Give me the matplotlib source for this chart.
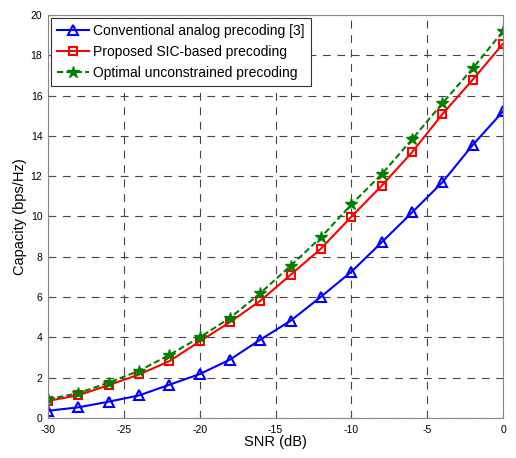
import matplotlib
matplotlib.use("Agg")
import matplotlib.pyplot as plt

snr = [-30, -28, -26, -24, -22, -20, -18, -16, -14, -12, -10, -8, -6, -4, -2, 0]
conventional = [0.36, 0.53, 0.81, 1.12, 1.65, 2.18, 2.9, 3.89, 4.83, 6.02, 7.26, 8.72, 10.2, 11.7, 13.55, 15.22]
proposed = [0.85, 1.13, 1.63, 2.16, 2.82, 3.8, 4.76, 5.82, 7.11, 8.41, 9.99, 11.53, 13.19, 15.08, 16.79, 18.58]
optimal = [0.93, 1.23, 1.76, 2.34, 3.13, 4.0, 4.97, 6.2, 7.56, 8.97, 10.6, 12.1, 13.83, 15.62, 17.35, 19.2]

labels = ["Conventional analog precoding [3]",
          "Proposed SIC-based precoding",
          "Optimal unconstrained precoding"]
xticks = [-30, -25, -20, -15, -10, -5, 0]
yticks = [0, 2, 4, 6, 8, 10, 12, 14, 16, 18, 20]

plt.rcParams['font.family'] = ['Liberation Sans', 'DejaVu Sans']
plt.rcParams['axes.unicode_minus'] = False

fig = plt.figure(figsize=(5.16, 4.58), dpi=100)
ax = fig.add_axes([0.093, 0.0873, 0.882, 0.880])

ax.plot(snr, conventional, color='#0000ff', lw=1.5, marker='^', ms=6.5,
        mfc='none', mec='#0000ff', mew=1.5, label=labels[0])
ax.plot(snr, proposed, color='#ff0000', lw=1.5, marker='s', ms=5.5,
        mfc='none', mec='#ff0000', mew=1.5, label=labels[1])
ax.plot(snr, optimal, color='#008000', lw=1.5, ls=(0, (3, 1.5)), marker='*', ms=9,
        mfc='#008000', mec='#008000', label=labels[2])

ax.set_xlim(-30, 0)
ax.set_ylim(0, 20)
ax.set_xticks(xticks)
ax.set_yticks(yticks)
ax.tick_params(direction='in', labelsize=7.5, length=4, color='#555555')
ax.tick_params(axis='x', pad=5)
ax.tick_params(axis='y', pad=4)
ax.grid(True, color='#444444', ls=(0, (7, 6)), lw=0.8)
for s in ax.spines.values():
    s.set_color('#888888')
    s.set_linewidth(0.8)

ax.set_xlabel('SNR (dB)', fontsize=10.5, labelpad=0)
ax.set_ylabel('Capacity (bps/Hz)', fontsize=10.5, labelpad=3)

leg = ax.legend(loc='upper left', fontsize=10, frameon=True, fancybox=False,
                edgecolor='#333333', framealpha=1, borderaxespad=0.2,
                handlelength=2.3, handletextpad=0.3, labelspacing=0.5, borderpad=0.45)
leg.get_frame().set_linewidth(0.8)

fig.savefig('out.png', dpi=100)
